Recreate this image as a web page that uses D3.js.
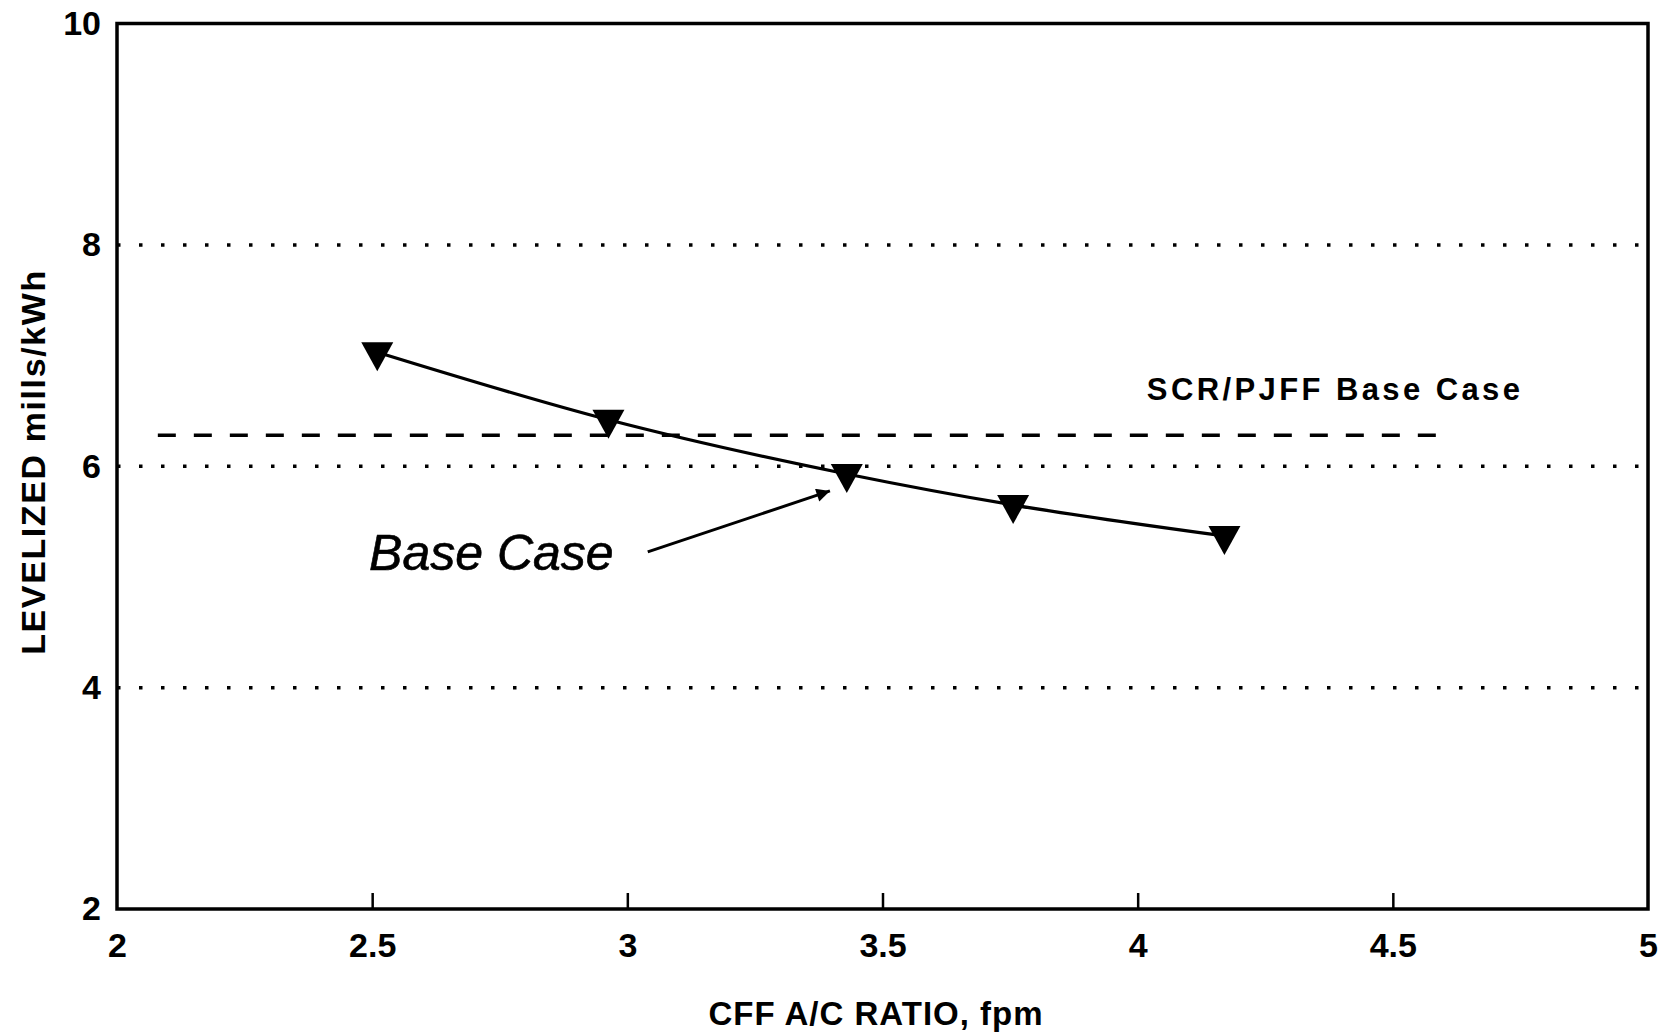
<!DOCTYPE html>
<html>
<head>
<meta charset="utf-8">
<script src="https://cdn.jsdelivr.net/npm/d3@7"></script>
<style>
  html, body { margin: 0; padding: 0; background: #fff; }
  svg { display: block; }
  text { font-family: "Liberation Sans", Arial, Helvetica, sans-serif; fill: #000; }
</style>
</head>
<body>
<svg id="chart" width="1665" height="1034"></svg>
<script>
// Levelized cost vs CFF air-to-cloth ratio
const acRatio = [2.51, 2.963, 3.43, 3.756, 4.17];
const levelizedCost = [7.03, 6.42, 5.93, 5.65, 5.37];

// SCR/PJFF base case reference level
const scrPjffLevel = 6.28;
const scrPjffSpan = [2.08, 4.597];

const xTicks = [2, 2.5, 3, 3.5, 4, 4.5, 5];
const yTicks = [2, 4, 6, 8, 10];
const gridLevels = [4, 6, 8];

// annotation anchors (data units)
const baseCaseLabel = { x: 2.494, y: 5.063, text: "Base Case" };
const baseCaseArrow = { from: [3.04, 5.226], to: [3.397, 5.777] };
const scrLabel = { x: 4.018, y: 6.6, text: "SCR/PJFF Base Case" };

const svg = d3.select("#chart");
const plot = { left: 117, right: 1648, top: 23.5, bottom: 909 };

const x = d3.scaleLinear().domain([2, 5]).range([plot.left, plot.right]);
const y = d3.scaleLinear().domain([2, 10]).range([plot.bottom, plot.top]);

// dotted gridlines
svg.append("g").selectAll("line").data(gridLevels).join("line")
  .attr("x1", x(2)).attr("x2", x(5))
  .attr("y1", d => y(d)).attr("y2", d => y(d))
  .attr("stroke", "#000").attr("stroke-width", 3.5)
  .attr("stroke-dasharray", "3.5,18.5");

// dashed reference line
svg.append("line")
  .attr("x1", x(scrPjffSpan[0])).attr("x2", x(scrPjffSpan[1]))
  .attr("y1", y(scrPjffLevel)).attr("y2", y(scrPjffLevel))
  .attr("stroke", "#000").attr("stroke-width", 3.5)
  .attr("stroke-dasharray", "18,18");

// axes with inward ticks
const xAxis = d3.axisBottom(x).tickValues(xTicks).tickSize(-16).tickPadding(24)
  .tickFormat(d => String(d));
const gx = svg.append("g").attr("transform", `translate(0,${plot.bottom})`).call(xAxis);
gx.select(".domain").remove();
gx.selectAll(".tick line").attr("stroke", "#000").attr("stroke-width", 2.5)
  .filter(d => d === 2 || d === 5).remove();
gx.selectAll(".tick text").attr("font-size", 34).attr("font-weight", "bold")
  .attr("font-family", "Liberation Sans, Arial, sans-serif").attr("fill", "#000");

const yAxis = d3.axisLeft(y).tickValues(yTicks).tickSize(0).tickPadding(16)
  .tickFormat(d => String(d));
const gy = svg.append("g").attr("transform", `translate(${plot.left},0)`).call(yAxis);
gy.select(".domain").remove();
gy.selectAll(".tick text").attr("font-size", 34).attr("font-weight", "bold")
  .attr("font-family", "Liberation Sans, Arial, sans-serif").attr("fill", "#000");

// plot frame
svg.append("rect")
  .attr("x", plot.left).attr("y", plot.top)
  .attr("width", plot.right - plot.left).attr("height", plot.bottom - plot.top)
  .attr("fill", "none").attr("stroke", "#000").attr("stroke-width", 3.5);

// cost curve
const pts = acRatio.map((d, i) => [d, levelizedCost[i]]);
const line = d3.line().x(d => x(d[0])).y(d => y(d[1])).curve(d3.curveMonotoneX);
svg.append("path").datum(pts).attr("d", line)
  .attr("fill", "none").attr("stroke", "#000").attr("stroke-width", 3.3);

// downward triangle markers
svg.append("g").selectAll("path").data(pts).join("path")
  .attr("d", d => {
    const cx = x(d[0]), cy = y(d[1]);
    return `M${cx - 16},${cy - 10}L${cx + 16},${cy - 10}L${cx},${cy + 19}Z`;
  })
  .attr("fill", "#000");

// Base Case annotation
svg.append("text")
  .attr("x", x(baseCaseLabel.x)).attr("y", y(baseCaseLabel.y))
  .attr("font-size", 50).attr("font-style", "italic")
  .attr("stroke", "#000").attr("stroke-width", 0.6)
  .text(baseCaseLabel.text);

const defs = svg.append("defs");
defs.append("marker").attr("id", "head")
  .attr("viewBox", "0 0 10 10").attr("refX", 10).attr("refY", 5)
  .attr("markerWidth", 6).attr("markerHeight", 4.5).attr("orient", "auto")
  .attr("markerUnits", "strokeWidth")
  .append("path").attr("d", "M0,0L10,5L0,10Z").attr("fill", "#000");

svg.append("line")
  .attr("x1", x(baseCaseArrow.from[0])).attr("y1", y(baseCaseArrow.from[1]))
  .attr("x2", x(baseCaseArrow.to[0])).attr("y2", y(baseCaseArrow.to[1]))
  .attr("stroke", "#000").attr("stroke-width", 3)
  .attr("marker-end", "url(#head)");

// reference line label
svg.append("text")
  .attr("x", x(scrLabel.x)).attr("y", y(scrLabel.y))
  .attr("font-size", 31).attr("font-weight", "bold").attr("letter-spacing", 3.4)
  .text(scrLabel.text);

// axis titles
svg.append("text")
  .attr("x", 876).attr("y", 1025)
  .attr("text-anchor", "middle").attr("font-size", 33).attr("font-weight", "bold")
  .attr("letter-spacing", 1)
  .text("CFF A/C RATIO, fpm");

svg.append("text")
  .attr("transform", `translate(45,${462}) rotate(-90)`)
  .attr("text-anchor", "middle").attr("font-size", 34).attr("font-weight", "bold")
  .attr("letter-spacing", 1.6)
  .text("LEVELIZED mills/kWh");
</script>
</body>
</html>
